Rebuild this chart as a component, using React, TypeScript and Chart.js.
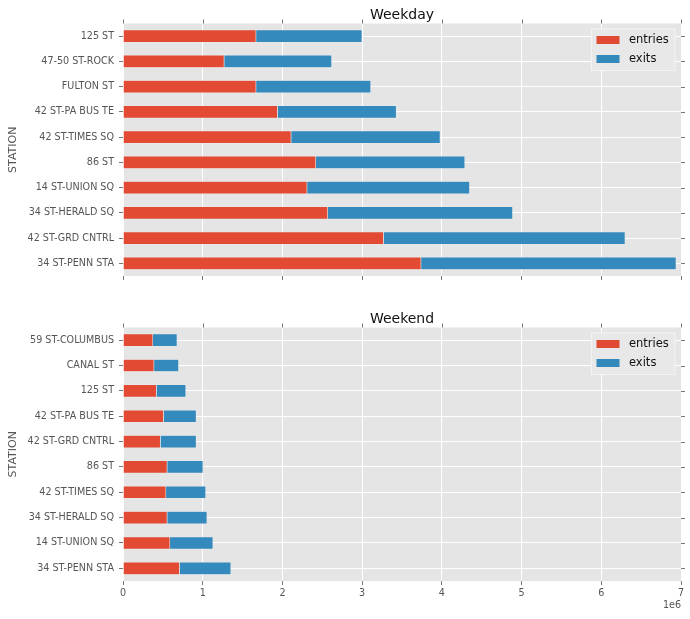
import React, { useEffect, useRef } from "react";
import { Chart, registerables } from "chart.js";

Chart.register(...registerables);

const FONT = "'DejaVu Sans', sans-serif";

const weekdayStations = [
  "125 ST",
  "47-50 ST-ROCK",
  "FULTON ST",
  "42 ST-PA BUS TE",
  "42 ST-TIMES SQ",
  "86 ST",
  "14 ST-UNION SQ",
  "34 ST-HERALD SQ",
  "42 ST-GRD CNTRL",
  "34 ST-PENN STA",
];
const weekdayEntries = [1.67e6, 1.27e6, 1.67e6, 1.94e6, 2.11e6, 2.42e6, 2.31e6, 2.57e6, 3.27e6, 3.74e6];
const weekdayExits = [1.33e6, 1.35e6, 1.44e6, 1.49e6, 1.87e6, 1.87e6, 2.04e6, 2.32e6, 3.03e6, 3.2e6];

const weekendStations = [
  "59 ST-COLUMBUS",
  "CANAL ST",
  "125 ST",
  "42 ST-PA BUS TE",
  "42 ST-GRD CNTRL",
  "86 ST",
  "42 ST-TIMES SQ",
  "34 ST-HERALD SQ",
  "14 ST-UNION SQ",
  "34 ST-PENN STA",
];
const weekendEntries = [0.376e6, 0.39e6, 0.42e6, 0.51e6, 0.47e6, 0.555e6, 0.54e6, 0.555e6, 0.59e6, 0.71e6];
const weekendExits = [0.304e6, 0.31e6, 0.37e6, 0.41e6, 0.45e6, 0.45e6, 0.5e6, 0.5e6, 0.54e6, 0.645e6];

const xMax = 7e6;
const xStep = 1e6;
const seriesNames = ["entries", "exits"];
const seriesColors = ["#E24A33", "#348ABD"];

type PanelProps = {
  title: string;
  stations: string[];
  entries: number[];
  exits: number[];
  showXLabels: boolean;
  height: number;
  padTop: number;
  xAxisHeight: number;
};

const ggPlugin = {
  id: "gg",
  beforeDraw(chart: any) {
    const { ctx, chartArea: a } = chart;
    ctx.save();
    ctx.fillStyle = "#E5E5E5";
    ctx.fillRect(a.left, a.top, a.right - a.left, a.bottom - a.top);
    ctx.restore();
  },
  afterDraw(chart: any, _args: any, opts: any) {
    const { ctx, chartArea: a } = chart;
    const xs = chart.scales.x;
    const ys = chart.scales.y;
    ctx.save();
    // top & right tick marks
    ctx.strokeStyle = "#777";
    ctx.lineWidth = 1;
    ctx.beginPath();
    xs.ticks.forEach((_t: any, i: number) => {
      const px = Math.round(xs.getPixelForTick(i)) + 0.5;
      ctx.moveTo(px, a.top);
      ctx.lineTo(px, a.top - 4);
    });
    ys.ticks.forEach((_t: any, i: number) => {
      const py = Math.round(ys.getPixelForTick(i)) + 0.5;
      ctx.moveTo(a.right, py);
      ctx.lineTo(a.right + 4, py);
    });
    ctx.stroke();

    // title
    ctx.fillStyle = "#111";
    ctx.font = `14px ${FONT}`;
    ctx.textAlign = "center";
    ctx.textBaseline = "alphabetic";
    ctx.fillText(opts.title, (a.left + a.right) / 2, a.top - 5);

    // y axis label
    ctx.save();
    ctx.translate(13, (a.top + a.bottom) / 2);
    ctx.rotate(-Math.PI / 2);
    ctx.fillStyle = "#555";
    ctx.font = `11px ${FONT}`;
    ctx.textAlign = "center";
    ctx.textBaseline = "middle";
    ctx.fillText("STATION", 0, 0);
    ctx.restore();

    // legend
    const bw = 83.5;
    const bh = 41.5;
    const bx = a.right - 89.5;
    const by = a.top + 5.5;
    ctx.fillStyle = "#E8E8E8";
    ctx.fillRect(bx, by, bw, bh);
    ctx.strokeStyle = "#F4F4F4";
    ctx.lineWidth = 1;
    ctx.strokeRect(bx, by, bw, bh);
    const ds = chart.data.datasets;
    ds.forEach((d: any, i: number) => {
      const sy = by + 7 + i * 19;
      ctx.fillStyle = d.backgroundColor;
      ctx.fillRect(bx + 5, sy, 23, 8);
      ctx.fillStyle = "#111";
      ctx.font = `11.5px ${FONT}`;
      ctx.textAlign = "left";
      ctx.textBaseline = "middle";
      ctx.fillText(d.label, bx + 37.5, sy + 4);
    });

    // offset text
    if (opts.showOffset) {
      ctx.fillStyle = "#555";
      ctx.font = `9.6px ${FONT}`;
      ctx.textAlign = "right";
      ctx.textBaseline = "middle";
      ctx.fillText("1e6", a.right, a.bottom + 24.5);
    }
    ctx.restore();
  },
};

function Panel(props: PanelProps) {
  const ref = useRef<HTMLCanvasElement | null>(null);
  useEffect(() => {
    if (!ref.current) return;
    const chart = new Chart(ref.current, {
      type: "bar",
      data: {
        labels: props.stations,
        datasets: [
          {
            label: seriesNames[0],
            data: props.entries,
            backgroundColor: seriesColors[0],
            borderColor: "#EEEEEE",
            borderWidth: 0.5,
            barPercentage: 0.5,
            categoryPercentage: 1,
          },
          {
            label: seriesNames[1],
            data: props.exits,
            backgroundColor: seriesColors[1],
            borderColor: "#EEEEEE",
            borderWidth: 0.5,
            barPercentage: 0.5,
            categoryPercentage: 1,
          },
        ],
      },
      options: {
        indexAxis: "y",
        animation: false,
        responsive: false,
        maintainAspectRatio: false,
        layout: { padding: { top: props.padTop, right: 9, left: 0, bottom: 0 } },
        plugins: {
          legend: { display: false },
          tooltip: { enabled: false },
          gg: { title: props.title, showOffset: props.showXLabels },
        } as any,
        scales: {
          x: {
            stacked: true,
            min: 0,
            max: xMax,
            ticks: {
              stepSize: xStep,
              display: props.showXLabels,
              color: "#555",
              font: { family: FONT, size: 9.6 },
              padding: 3,
              maxRotation: 0,
              callback: (v: any) => String(Number(v) / 1e6),
            },
            grid: {
              color: "#FFFFFF",
              lineWidth: 1,
              tickColor: "#777",
              tickLength: 4,
            },
            border: { display: false },
            afterFit: (s: any) => {
              s.height = props.xAxisHeight;
            },
          },
          y: {
            stacked: true,
            offset: true,
            ticks: {
              color: "#555",
              font: { family: FONT, size: 9.6 },
              padding: 5,
              autoSkip: false,
            },
            grid: {
              offset: false,
              color: "#FFFFFF",
              lineWidth: 1,
              tickColor: "#777",
              tickLength: 4,
            },
            border: { display: false },
            afterFit: (s: any) => {
              s.width = 123;
            },
          },
        },
      },
      plugins: [ggPlugin],
    } as any);
    return () => chart.destroy();
  }, []);
  return (
    <canvas
      ref={ref}
      width={690}
      height={props.height}
      style={{ display: "block", width: 690, height: props.height }}
    />
  );
}

export default function App() {
  return (
    <div
      style={{
        position: "absolute",
        left: 0,
        top: 0,
        width: 690,
        height: 619,
        background: "#FFFFFF",
      }}
    >
      <Panel
        title="Weekday"
        stations={weekdayStations}
        entries={weekdayEntries}
        exits={weekdayExits}
        showXLabels={false}
        height={300}
        padTop={23.5}
        xAxisHeight={24}
      />
      <Panel
        title="Weekend"
        stations={weekendStations}
        entries={weekendEntries}
        exits={weekendExits}
        showXLabels={true}
        height={319}
        padTop={27.5}
        xAxisHeight={38}
      />
    </div>
  );
}
